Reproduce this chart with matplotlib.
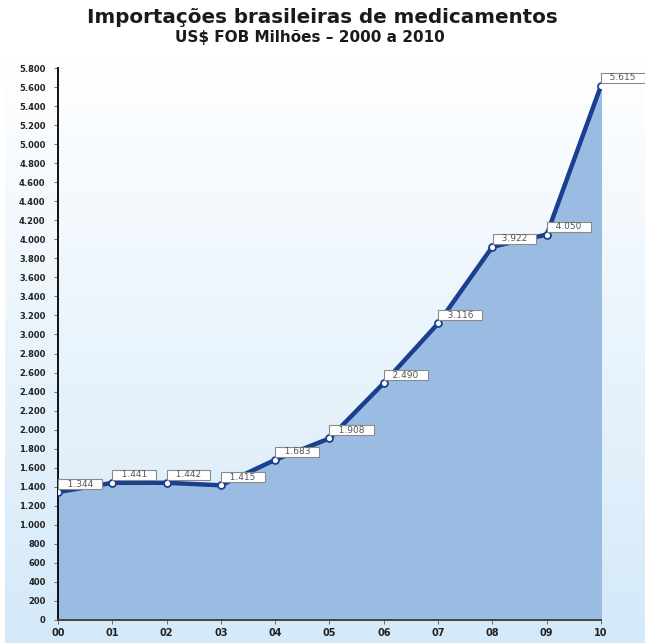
import matplotlib
matplotlib.use("Agg")
import matplotlib.pyplot as plt
import numpy as np
from matplotlib.colors import LinearSegmentedColormap

years = ["00", "01", "02", "03", "04", "05", "06", "07", "08", "09", "10"]
values = [1344, 1441, 1442, 1415, 1683, 1908, 2490, 3116, 3922, 4050, 5615]
value_labels = ["1.344", "1.441", "1.442", "1.415", "1.683", "1.908", "2.490",
                "3.116", "3.922", "4.050", "5.615"]
yticks = list(range(0, 5801, 200))

fig = plt.figure(figsize=(6.45, 6.43), dpi=100)

# background gradient
bg = fig.add_axes([0.008, 0.0, 0.992, 0.915], zorder=0)
grad = np.linspace(0, 1, 256).reshape(-1, 1)
cmap = LinearSegmentedColormap.from_list("bg", ["#d4e9f9", "#ffffff"])
bg.imshow(grad, aspect="auto", cmap=cmap, origin="lower", extent=[0, 1, 0, 1])
bg.axis("off")

ax = fig.add_axes([0.0899, 0.0358, 0.8419, 0.8584], zorder=1)
ax.patch.set_alpha(0)
x = np.arange(len(years))
ax.fill_between(x, values, 0, color="#9bbce2", zorder=1)
ax.plot(x, values, color="#1b3f8f", lw=3.2, zorder=3, solid_capstyle="round")
ax.plot(x, values, "o", ms=5, mfc="white", mec="#1b3f8f", mew=1.3, zorder=4)

for xi, v, lab in zip(x, values, value_labels):
    ax.annotate("   " + lab + "   ", (xi, v), xytext=(22, 8), textcoords="offset pixels",
                ha="center", va="center", fontsize=6.5, color="#555555",
                bbox=dict(boxstyle="square,pad=0.05", fc="white", ec="#8a8a8a", lw=0.8),
                zorder=5)

ax.set_xlim(0, 10)
ax.set_ylim(0, 5800)
ax.set_xticks(x)
ax.set_xticklabels(years)
ax.set_yticks(yticks)
ax.set_yticklabels([f"{t:,}".replace(",", ".") for t in yticks])
for lab in ax.get_yticklabels():
    lab.set_fontweight("bold")
    lab.set_fontsize(6)
    lab.set_color("#222222")
for lab in ax.get_xticklabels():
    lab.set_fontweight("bold")
    lab.set_fontsize(7)
    lab.set_color("#222222")
ax.tick_params(axis="y", length=3, width=0.6, color="#555555", pad=6)
ax.tick_params(axis="x", length=3, width=0.6, color="#555555", pad=3)
for s in ["top", "right"]:
    ax.spines[s].set_visible(False)
ax.spines["left"].set_color("#111111")
ax.spines["left"].set_linewidth(1.4)
ax.spines["bottom"].set_color("#444444")
ax.spines["bottom"].set_linewidth(1.4)

fig.text(0.5, 0.973, "Importações brasileiras de medicamentos", ha="center", va="center",
         fontsize=14.3, fontweight="bold", color="#1a1a1a")
fig.text(0.48, 0.942, "US$ FOB Milhões – 2000 a 2010", ha="center", va="center",
         fontsize=11, fontweight="bold", color="#1a1a1a")

fig.savefig("out.png", dpi=100)
